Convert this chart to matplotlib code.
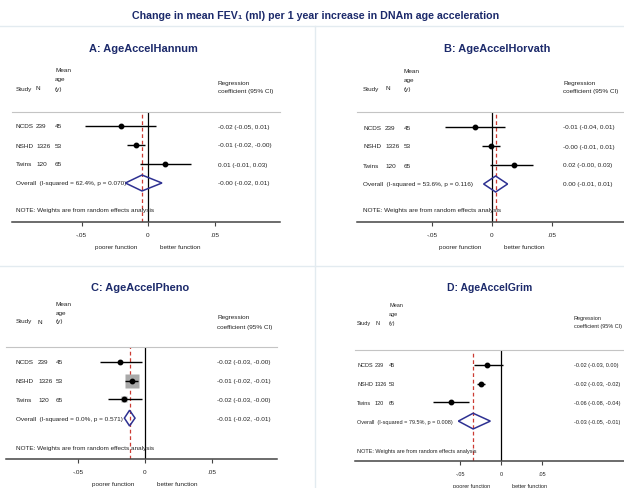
import matplotlib.pyplot as plt
from matplotlib import transforms
from matplotlib.lines import Line2D
from matplotlib.patches import Polygon

plt.rcParams['font.family'] = ['Liberation Sans', 'DejaVu Sans']

W, H = 624, 489
NAVY = '#1c2a6b'
DIAMOND = '#2e3192'
RED = '#cc3b33'

main_title = 'Change in mean FEV\u2081 (ml) per 1 year increase in DNAm age acceleration'

study = ['NCDS', 'NSHD', 'Twins']
n_obs = ['239', '1326', '120']
mean_age = ['45', '53', '65']

# A: AgeAccelHannum
est_a = [-0.020, -0.009, 0.013]
lo_a = [-0.047, -0.016, -0.006]
hi_a = [0.006, -0.002, 0.032]
pooled_a = [-0.0045, -0.017, 0.0105]   # estimate, lower, upper
ci_text_a = ['-0.02 (-0.05, 0.01)', '-0.01 (-0.02, -0.00)', '0.01 (-0.01, 0.03)', '-0.00 (-0.02, 0.01)']
isq_a, p_a = '62.4%', '0.070'

# B: AgeAccelHorvath
est_b = [-0.014, -0.001, 0.018]
lo_b = [-0.039, -0.008, -0.002]
hi_b = [0.011, 0.007, 0.034]
pooled_b = [0.003, -0.007, 0.013]
ci_text_b = ['-0.01 (-0.04, 0.01)', '-0.00 (-0.01, 0.01)', '0.02 (-0.00, 0.03)', '0.00 (-0.01, 0.01)']
isq_b, p_b = '53.6%', '0.116'

# C: AgeAccelPheno
est_c = [-0.019, -0.010, -0.016]
lo_c = [-0.034, -0.0152, -0.028]
hi_c = [-0.0025, -0.0055, -0.0025]
pooled_c = [-0.0116, -0.0155, -0.0075]
ci_text_c = ['-0.02 (-0.03, -0.00)', '-0.01 (-0.02, -0.01)', '-0.02 (-0.03, -0.00)', '-0.01 (-0.02, -0.01)']
isq_c, p_c = '0.0%', '0.571'
weights_c = [9, 80, 11]

# D: AgeAccelGrim
est_d = [-0.017, -0.025, -0.061]
lo_d = [-0.033, -0.029, -0.083]
hi_d = [0.002, -0.019, -0.039]
pooled_d = [-0.034, -0.052, -0.013]
ci_text_d = ['-0.02 (-0.03, 0.00)', '-0.02 (-0.03, -0.02)', '-0.06 (-0.08, -0.04)', '-0.03 (-0.05, -0.01)']
isq_d, p_d = '79.5%', '0.008'

# layout of each panel in pixels (the panels were pasted at slightly different scales)
geo_a = dict(left=12, right=280, line=113, axis=223, row0=127, step=19, zero=148, ppu=1330,
             note=211, title=(143, 49), cols=(16, 36, 55, 218), hdr=(71, 80, 89, 83, 91),
             fs=4.6, tfs=7.9, fav=32)
geo_b = dict(left=357, right=624, line=113, axis=223, row0=128, step=19, zero=492, ppu=1200,
             note=211, title=(497, 49), cols=(363, 385, 404, 563), hdr=(71, 80, 89, 83, 91),
             fs=4.6, tfs=7.9, fav=32)
geo_c = dict(left=6, right=277, line=348, axis=460, row0=363, step=18.7, zero=145, ppu=1330,
             note=449, title=(140, 288), cols=(16, 38, 56, 217), hdr=(305, 313, 322, 318, 327),
             fs=4.6, tfs=7.9, fav=32)
geo_d = dict(left=355, right=624, line=351, axis=462, row0=366, step=18.7, zero=501, ppu=820,
             note=452, title=(490, 288), cols=(357, 375, 389, 574), hdr=(306, 315, 324, 319, 327),
             fs=4.0, tfs=7.5, fav=29)

panels = [
    ('A: AgeAccelHannum', est_a, lo_a, hi_a, pooled_a, ci_text_a, isq_a, p_a, None, geo_a),
    ('B: AgeAccelHorvath', est_b, lo_b, hi_b, pooled_b, ci_text_b, isq_b, p_b, None, geo_b),
    ('C: AgeAccelPheno', est_c, lo_c, hi_c, pooled_c, ci_text_c, isq_c, p_c, weights_c, geo_c),
    ('D: AgeAccelGrim', est_d, lo_d, hi_d, pooled_d, ci_text_d, isq_d, p_d, None, geo_d),
]

fig = plt.figure(figsize=(W / 100, H / 100), dpi=100)

# faint frames between the pasted panels
for xs, ys in [((0, 1), (1 - 27 / H, 1 - 27 / H)), ((0, 1), (1 - 267 / H, 1 - 267 / H)),
               ((315 / W, 315 / W), (0, 1 - 27 / H))]:
    fig.add_artist(Line2D(xs, ys, color='#e3ebf0', lw=1.0))

fig.text(316 / W, 1 - 16 / H, main_title, ha='center', va='center',
         fontsize=7.7, fontweight='bold', color=NAVY)


def forest(title, est, lo, hi, pooled, ci_text, isq, p, weights, g):
    ax = fig.add_axes([g['left'] / W, 1 - g['axis'] / H,
                       (g['right'] - g['left']) / W, (g['axis'] - g['line']) / H])
    ax.set_xlim((g['left'] - g['zero']) / g['ppu'], (g['right'] - g['zero']) / g['ppu'])
    ax.set_ylim((g['axis'] - g['row0']) / g['step'], (g['line'] - g['row0']) / g['step'])

    def ry(py):
        return (py - g['row0']) / g['step']

    def fx(px):
        return (px - g['left']) / (g['right'] - g['left'])

    blend = transforms.blended_transform_factory(ax.transAxes, ax.transData)
    fs = g['fs']
    tc = '#222222'

    ax.axvline(0, color='black', lw=0.9, zorder=1)
    ax.axvline(pooled[0], color=RED, lw=0.9, ls=(0, (3, 2.2)), zorder=2)

    rows = list(range(len(study)))
    if weights is not None:
        for r, w in zip(rows, weights):
            side = 16 * (w / 100) ** 0.5 / 1.389
            ax.plot(est[r], r, marker='s', ms=side, color='#a9a9a9', mec='none', zorder=3)
    ax.hlines(rows, lo, hi, color='black', lw=1.0, zorder=4)
    ax.plot(est, rows, 'o', color='black', ms=3.2, zorder=5)

    yo = len(study)
    h = 0.42
    ax.add_patch(Polygon([(pooled[1], yo), (pooled[0], yo - h), (pooled[2], yo), (pooled[0], yo + h)],
                         closed=True, fill=False, edgecolor=DIAMOND, lw=1.1, zorder=6))

    c_study, c_n, c_age, c_ci = [fx(v) for v in g['cols']]
    for r in rows:
        ax.text(c_study, r, study[r], transform=blend, fontsize=fs, va='center', color=tc)
        ax.text(c_n, r, n_obs[r], transform=blend, fontsize=fs, va='center', color=tc)
        ax.text(c_age, r, mean_age[r], transform=blend, fontsize=fs, va='center', color=tc)
    for r, s in enumerate(ci_text):
        ax.text(c_ci, r, s, transform=blend, fontsize=fs, va='center', color=tc)
    ax.text(c_study, yo, f'Overall  (I-squared = {isq}, p = {p})', transform=blend,
            fontsize=fs, va='center', color=tc, zorder=1)
    ax.text(c_study, ry(g['note']), 'NOTE: Weights are from random effects analysis',
            transform=blend, fontsize=fs, va='center', color=tc)

    y_mean, y_age, y_hdr, y_reg, y_coef = [ry(v) for v in g['hdr']]
    ax.text(c_study, y_hdr, 'Study', transform=blend, fontsize=fs, va='center', color=tc)
    ax.text(c_n, y_hdr, 'N', transform=blend, fontsize=fs, va='center', color=tc)
    ax.text(c_age, y_mean, 'Mean', transform=blend, fontsize=fs, va='center', color=tc)
    ax.text(c_age, y_age, 'age', transform=blend, fontsize=fs, va='center', color=tc)
    ax.text(c_age, y_hdr, '(y)', transform=blend, fontsize=fs, va='center', color=tc)
    ax.text(c_ci, y_reg, 'Regression', transform=blend, fontsize=fs, va='center', color=tc)
    ax.text(c_ci, y_coef, 'coefficient (95% CI)', transform=blend, fontsize=fs, va='center', color=tc)

    tx, ty = g['title']
    ax.text(fx(tx), ry(ty), title, transform=blend, ha='center', va='center',
            fontsize=g['tfs'], fontweight='bold', color=NAVY)

    for side in ['left', 'right']:
        ax.spines[side].set_visible(False)
    ax.spines['top'].set_color('#c4c4c4')
    ax.spines['top'].set_linewidth(0.8)
    ax.spines['bottom'].set_color('#444444')
    ax.spines['bottom'].set_linewidth(1.1)
    ax.set_yticks([])
    ax.set_xticks([-0.05, 0, 0.05])
    ax.set_xticklabels(['-.05', '0', '.05'])
    ax.tick_params(axis='x', labelsize=fs, length=3, width=0.8, pad=4, color='#444444',
                   labelcolor=tc)
    ax.patch.set_alpha(0)

    xb = transforms.blended_transform_factory(ax.transData, ax.transAxes)
    d = g['fav'] / 1.389
    ax.annotate('poorer function', xy=(0, 0), xycoords=xb, xytext=(-d, -17.5), textcoords='offset points',
                ha='center', va='center', fontsize=fs, color=tc)
    ax.annotate('better function', xy=(0, 0), xycoords=xb, xytext=(d, -17.5), textcoords='offset points',
                ha='center', va='center', fontsize=fs, color=tc)


for args in panels:
    forest(*args)

fig.savefig('out.png', dpi=100, facecolor='white')
